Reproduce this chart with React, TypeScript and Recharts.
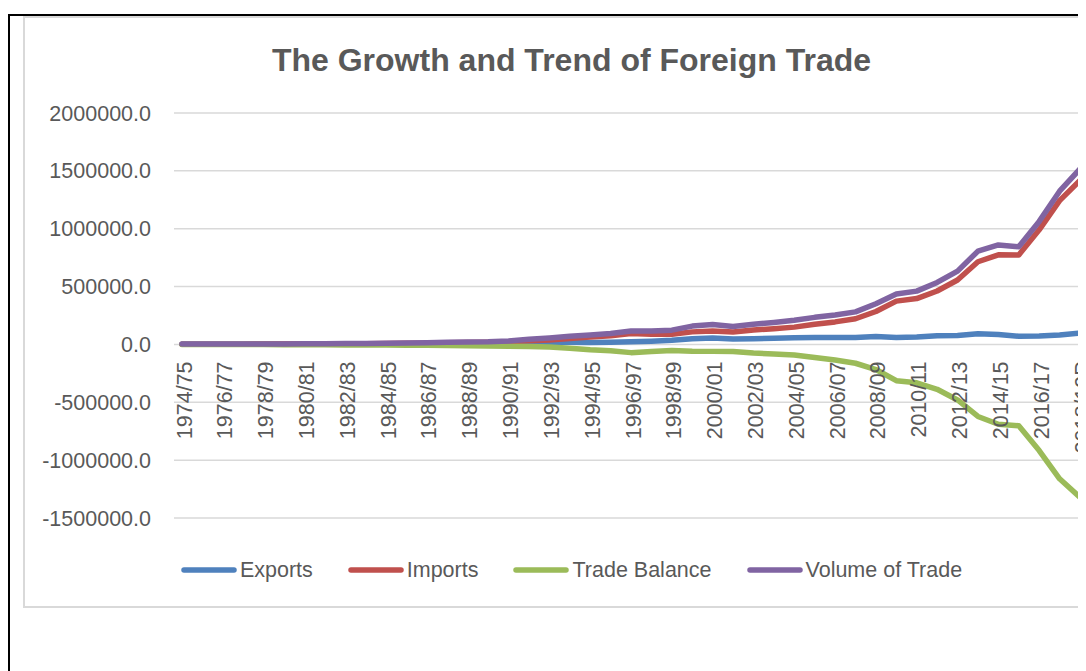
import React from "react";
import { LineChart, Line, XAxis, YAxis, CartesianGrid, Legend } from "recharts";

// Foreign trade, Rs. million
const years = [
  "1974/75", "1975/76", "1976/77", "1977/78", "1978/79", "1979/80", "1980/81", "1981/82",
  "1982/83", "1983/84", "1984/85", "1985/86", "1986/87", "1987/88", "1988/89", "1989/90",
  "1990/91", "1991/92", "1992/93", "1993/94", "1994/95", "1995/96", "1996/97", "1997/98",
  "1998/99", "1999/00", "2000/01", "2001/02", "2002/03", "2003/04", "2004/05", "2005/06",
  "2006/07", "2007/08", "2008/09", "2009/10", "2010/11", "2011/12", "2012/13", "2013/14",
  "2014/15", "2015/16", "2016/17", "2017/18", "2018/19P",
];

const exportsValues = [
  890, 1186, 1165, 1046, 1297, 1151, 1609, 1492, 1132, 1704, 2741, 3078, 2991, 4115, 4195,
  5156, 7388, 13707, 17267, 19293, 17639, 19881, 22637, 27514, 35676, 49823, 55654, 46945,
  49931, 53911, 58706, 60234, 59383, 59267, 67698, 60824, 64339, 74261, 76917, 91991, 85319,
  70117, 73049, 81360, 97709,
];

const importsValues = [
  1815, 1982, 2008, 2470, 2885, 3480, 4428, 4930, 6314, 6514, 7742, 9341, 10905, 13870,
  16264, 18325, 23227, 31940, 39206, 51571, 63680, 74455, 93553, 89002, 87525, 108505,
  115687, 107389, 124352, 136277, 149474, 173780, 194695, 221938, 284470, 374335, 396176,
  461668, 556740, 714366, 774684, 773599, 990113, 1242833, 1418535,
];

const balanceValues = [
  -925, -796, -843, -1424, -1588, -2329, -2819, -3438, -5182, -4810, -5001, -6263, -7914,
  -9755, -12069, -13169, -15839, -18233, -21939, -32278, -46041, -54574, -70916, -61488,
  -51849, -58682, -60033, -60444, -74421, -82366, -90768, -113546, -135312, -162671,
  -216772, -313511, -331837, -387407, -479823, -622375, -689365, -703482, -917064,
  -1161473, -1320826,
];

const volumeValues = [
  2705, 3168, 3173, 3516, 4182, 4631, 6037, 6422, 7446, 8218, 10483, 12419, 13896, 17985,
  20459, 23481, 30615, 45647, 56473, 70864, 81319, 94336, 116190, 116516, 123201, 158328,
  171341, 154334, 174283, 190188, 208180, 234014, 254078, 281205, 352168, 435159, 460515,
  535929, 633657, 806357, 860003, 843716, 1063162, 1324193, 1516244,
];

const yTicks = [-1500000, -1000000, -500000, 0, 500000, 1000000, 1500000, 2000000];

const series = [
  { key: "exports", name: "Exports", color: "#4f81bd" },
  { key: "imports", name: "Imports", color: "#c0504d" },
  { key: "balance", name: "Trade Balance", color: "#9bbb59" },
  { key: "volume", name: "Volume of Trade", color: "#8064a2" },
];

const data = years.map((year, i) => ({
  year,
  exports: exportsValues[i],
  imports: importsValues[i],
  balance: balanceValues[i],
  volume: volumeValues[i],
}));

const FONT = '"Liberation Sans", Arial, sans-serif';
const TEXT = "#595959";
const CHART_W = 1093;
const CHART_H = 588;
const MARGIN = { top: 95, right: 30, bottom: 24, left: 30 };
const Y_MIN = yTicks[0];
const Y_MAX = yTicks[yTicks.length - 1];

// x labels sit under the zero line, not at the bottom of the plot
const XTick = (props: any) => {
  const { x, y, payload } = props;
  const plotH = y - MARGIN.top;
  const zeroY = y - (plotH * (0 - Y_MIN)) / (Y_MAX - Y_MIN);
  const tx = x + 2;
  const ty = zeroY + 17;
  return (
    <text
      x={tx}
      y={ty}
      dy="0.35em"
      transform={`rotate(-90 ${tx} ${ty})`}
      textAnchor="end"
      fill={TEXT}
      fontSize={21.5}
      fontFamily={FONT}
    >
      {payload.value}
    </text>
  );
};

const renderLegend = () => (
  <div
    style={{
      height: 24,
      display: "flex",
      justifyContent: "center",
      alignItems: "center",
      fontFamily: FONT,
      fontSize: 21.5,
      color: TEXT,
    }}
  >
    {series.map((s, i) => (
      <div
        key={s.key}
        style={{ display: "flex", alignItems: "center", marginRight: i < series.length - 1 ? 35 : 0 }}
      >
        <svg width={56} height={8} style={{ marginRight: 3 }}>
          <line x1={3} y1={4} x2={53} y2={4} stroke={s.color} strokeWidth={5.5} strokeLinecap="round" />
        </svg>
        <span>{s.name}</span>
      </div>
    ))}
  </div>
);

export default function App() {
  return (
    <div style={{ width: 1078, height: 663, overflow: "hidden" }}>
      <div
        style={{
          marginTop: 6,
          width: 1200,
          height: 700,
          borderTop: "2px solid #000",
          borderLeft: "2px solid #000",
        }}
      >
        <div
          style={{
            position: "relative",
            marginLeft: 13,
            width: CHART_W,
            height: CHART_H,
            border: "2px solid #d9d9d9",
            background: "#fff",
          }}
        >
          <div
            style={{
              position: "absolute",
              left: 0,
              top: 25.6,
              width: CHART_W,
              textAlign: "center",
              fontFamily: FONT,
              fontWeight: "bold",
              fontSize: 32,
              lineHeight: "32px",
              color: TEXT,
            }}
          >
            The Growth and Trend of Foreign Trade
          </div>
          <LineChart width={CHART_W} height={CHART_H} data={data} margin={MARGIN}>
            <CartesianGrid vertical={false} stroke="#d9d9d9" strokeWidth={1.5} />
            <XAxis
              dataKey="year"
              interval={1}
              padding={{ left: 8, right: 8 }}
              height={40}
              axisLine={false}
              tickLine={false}
              tickSize={0}
              tickMargin={0}
              tick={<XTick />}
            />
            <YAxis
              width={119}
              domain={[Y_MIN, Y_MAX]}
              ticks={yTicks}
              interval={0}
              axisLine={false}
              tickLine={false}
              tickSize={0}
              tickMargin={23}
              tickFormatter={(v: number) => v.toFixed(1)}
              tick={{ fill: TEXT, fontSize: 21.5, fontFamily: FONT }}
            />
            <Legend verticalAlign="bottom" content={renderLegend} />
            {series.map((s) => (
              <Line
                key={s.key}
                type="linear"
                dataKey={s.key}
                name={s.name}
                stroke={s.color}
                strokeWidth={5.5}
                strokeLinecap="round"
                strokeLinejoin="round"
                dot={false}
                isAnimationActive={false}
              />
            ))}
          </LineChart>
        </div>
      </div>
    </div>
  );
}
